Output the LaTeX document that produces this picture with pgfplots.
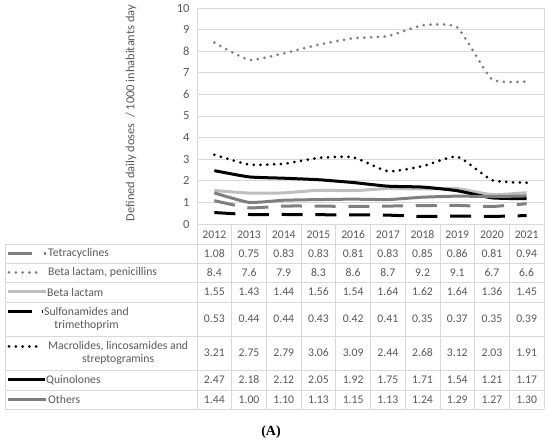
\documentclass[border=0pt]{standalone}
\usepackage{pgfplots}
\pgfplotsset{compat=1.18}
\usepackage{fontspec}
\setmainfont{Carlito}
\newfontfamily\capfont{Liberation Serif}
\definecolor{txt}{HTML}{595959}
\definecolor{grd}{HTML}{D9D9D9}
\definecolor{mg}{HTML}{7F7F7F}
\definecolor{lg}{HTML}{BFBFBF}
\tikzset{
  dotl/.style={line width=3pt, line cap=round, dash pattern=on 0pt off 6.8pt},
  dashl/.style={line width=3pt, line cap=butt, dash pattern=on 21pt off 12.7pt},
  solidl/.style={line width=3pt, line cap=butt},
}
\newcommand{\tf}{\fontsize{11.7}{13.5}\selectfont}
\begin{document}
\begin{tikzpicture}[x=1pt,y=1pt]
\path[use as bounding box] (0,0) rectangle (550,-443);
\begin{axis}[
  at={(197pt,-224pt)}, anchor=south west, scale only axis,
  width=347pt, height=216pt,
  xmin=-0.5, xmax=9.5, ymin=0, ymax=10,
  ytick={0,1,...,10}, xtick=\empty,
  ymajorgrids, grid style={grd, line width=0.75pt},
  axis line style={grd, line width=0.75pt},
  major tick length=0pt,
  yticklabel style={font=\fontsize{12.5}{14}\selectfont, text=txt, xshift=-4pt},
  /pgf/number format/assume math mode=true,
]
% Tetracyclines
\addplot[mg, dashl, smooth, tension=0.3] coordinates {(0,1.08)(1,0.75)(2,0.83)(3,0.83)(4,0.81)(5,0.83)(6,0.85)(7,0.86)(8,0.81)(9,0.94)};
% Beta lactam, penicillins
\addplot[mg, dotl, smooth, tension=0.3] coordinates {(0,8.4)(1,7.6)(2,7.9)(3,8.3)(4,8.6)(5,8.7)(6,9.2)(7,9.1)(8,6.7)(9,6.6)};
% Beta lactam
\addplot[lg, solidl, smooth, tension=0.3] coordinates {(0,1.55)(1,1.43)(2,1.44)(3,1.56)(4,1.54)(5,1.64)(6,1.62)(7,1.64)(8,1.36)(9,1.45)};
% Sulfonamides
\addplot[black, dashl, smooth, tension=0.3] coordinates {(0,0.53)(1,0.44)(2,0.44)(3,0.43)(4,0.42)(5,0.41)(6,0.35)(7,0.37)(8,0.35)(9,0.39)};
% Macrolides
\addplot[black, dotl, smooth, tension=0.3] coordinates {(0,3.21)(1,2.75)(2,2.79)(3,3.06)(4,3.09)(5,2.44)(6,2.68)(7,3.12)(8,2.03)(9,1.91)};
% Quinolones
\addplot[black, solidl, smooth, tension=0.3] coordinates {(0,2.47)(1,2.18)(2,2.12)(3,2.05)(4,1.92)(5,1.75)(6,1.71)(7,1.54)(8,1.21)(9,1.17)};
% Others
\addplot[mg, solidl, smooth, tension=0.3] coordinates {(0,1.44)(1,1.00)(2,1.10)(3,1.13)(4,1.15)(5,1.13)(6,1.24)(7,1.29)(8,1.27)(9,1.30)};
\end{axis}
% y label
\node[rotate=90, text=txt, font=\fontsize{12.4}{14}\selectfont] at (131,-113) {Defined daily doses~ / 1000 inhabitants day};
% table grid
\begin{scope}[grd, line width=0.75pt]
\foreach \k in {0,...,10} \draw ({197+34.7*\k},-224) -- ({197+34.7*\k},-409);
\draw (5,-244) -- (5,-409);
\foreach \yy in {244,263,282,302,336,370.5,390,409} \draw (5,-\yy) -- (544,-\yy);
\end{scope}
\begin{scope}[font=\tf, text=txt]
\foreach \v [count=\i from 0] in {2012,2013,2014,2015,2016,2017,2018,2019,2020,2021}
  \node at ({197+34.7*(\i+0.5)},-234.5) {\v};
\foreach \v [count=\i from 0] in {1.08,0.75,0.83,0.83,0.81,0.83,0.85,0.86,0.81,0.94}
  \node at ({197+34.7*(\i+0.5)},-253.5) {\v};
\foreach \v [count=\i from 0] in {8.4,7.6,7.9,8.3,8.6,8.7,9.2,9.1,6.7,6.6}
  \node at ({197+34.7*(\i+0.5)},-272.5) {\v};
\foreach \v [count=\i from 0] in {1.55,1.43,1.44,1.56,1.54,1.64,1.62,1.64,1.36,1.45}
  \node at ({197+34.7*(\i+0.5)},-292) {\v};
\foreach \v [count=\i from 0] in {0.53,0.44,0.44,0.43,0.42,0.41,0.35,0.37,0.35,0.39}
  \node at ({197+34.7*(\i+0.5)},-319) {\v};
\foreach \v [count=\i from 0] in {3.21,2.75,2.79,3.06,3.09,2.44,2.68,3.12,2.03,1.91}
  \node at ({197+34.7*(\i+0.5)},-353) {\v};
\foreach \v [count=\i from 0] in {2.47,2.18,2.12,2.05,1.92,1.75,1.71,1.54,1.21,1.17}
  \node at ({197+34.7*(\i+0.5)},-380) {\v};
\foreach \v [count=\i from 0] in {1.44,1.00,1.10,1.13,1.15,1.13,1.24,1.29,1.27,1.30}
  \node at ({197+34.7*(\i+0.5)},-399.5) {\v};
% row labels
\node[anchor=west, inner sep=0] at (48,-253.5) {Tetracyclines};
\node[anchor=west, inner sep=0] at (48,-272.5) {Beta lactam, penicillins};
\node[anchor=west, inner sep=0] at (47,-292) {Beta lactam};
\node[anchor=west, inner sep=0, align=center] at (44,-319) {Sulfonamides and\\trimethoprim};
\node[anchor=west, inner sep=0, align=center] at (48,-353) {Macrolides, lincosamides and\\streptogramins};
\node[anchor=west, inner sep=0] at (46,-380) {Quinolones};
\node[anchor=west, inner sep=0] at (48,-399.5) {Others};
\end{scope}
% legend keys
\draw[mg, line width=3pt, dash pattern=on 24pt off 11.5pt] (8,-253.5) -- (45.5,-253.5);
\draw[mg, dotl] (9,-272.5) -- (42,-272.5);
\draw[lg, solidl] (8,-292) -- (46,-292);
\draw[black, line width=3pt, dash pattern=on 24pt off 9.5pt] (8,-312) -- (42,-312);
\draw[black, dotl] (9,-346.5) -- (42,-346.5);
\draw[black, solidl] (8,-380) -- (45,-380);
\draw[mg, solidl] (8,-399.5) -- (46,-399.5);
% caption
\node[font=\capfont\bfseries\fontsize{14}{16}\selectfont] at (271,-432) {(A)};
\end{tikzpicture}
\end{document}
